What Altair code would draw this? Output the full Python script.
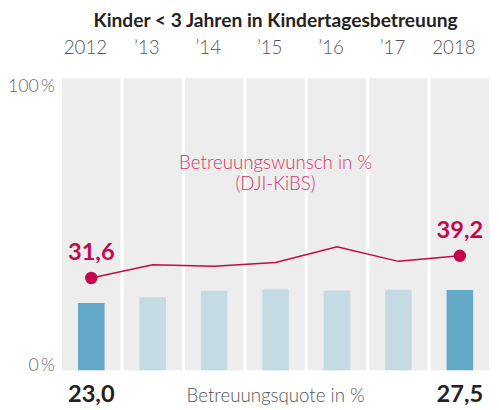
import altair as alt
import pandas as pd

years = ["2012", "\u201913", "\u201914", "\u201915", "\u201916", "\u201917", "2018"]
quote = [23.0, 25.0, 27.2, 27.7, 27.3, 27.6, 27.5]
wunsch = [31.6, 36.1, 35.6, 36.9, 42.3, 37.3, 39.2]
highlight = [True, False, False, False, False, False, True]
full = [100] * 7

df = pd.DataFrame({"year": years, "quote": quote, "wunsch": wunsch,
                   "hl": highlight, "full": full})
df["quote_lbl"] = [f"{v:.1f}".replace(".", ",") for v in quote]
df["wunsch_lbl"] = [f"{v:.1f}".replace(".", ",") for v in wunsch]

ends = df[df["hl"]]

FONT = "Lato"
PINK = "#c4084d"

xs = alt.Scale(domain=years, paddingInner=0.05, paddingOuter=0)
ys = alt.Scale(domain=[0, 100], nice=False)

x_axis = alt.Axis(orient="top", title=None, domain=False, ticks=False,
                  labelAngle=0, labelFontSize=19, labelFont=FONT,
                  labelFontWeight=300, labelColor="#555555", labelPadding=21,
                  labelOffset=-6)
y_axis = alt.Axis(title=None, values=[0, 100], domain=False, ticks=False,
                  grid=False, labelFontSize=18, labelFont=FONT,
                  labelFontWeight=300, labelColor="#666666", labelPadding=8,
                  labelBaseline={"condition": {"test": "datum.value == 0",
                                               "value": "alphabetic"},
                                 "value": "top"},
                  labelExpr="datum.value + '\u2009%'")

base = alt.Chart(df)

bg = base.mark_rect(color="#ededed").encode(
    x=alt.X("year:N", scale=xs, axis=x_axis, sort=years),
    y=alt.Y("full:Q", scale=ys, axis=y_axis),
    y2=alt.datum(0),
)

bars = base.mark_bar(size=27).encode(
    x=alt.X("year:N", scale=xs, sort=years),
    y=alt.Y("quote:Q", scale=ys),
    color=alt.Color("hl:N", scale=alt.Scale(domain=[True, False],
                                            range=["#63a8c6", "#c5dbe3"]),
                    legend=None),
)

line = base.mark_line(color=PINK, strokeWidth=1.5).encode(
    x=alt.X("year:N", scale=xs, sort=years),
    y=alt.Y("wunsch:Q", scale=ys),
)

pts = alt.Chart(ends).mark_circle(color=PINK, size=160, opacity=1).encode(
    x=alt.X("year:N", scale=xs, sort=years),
    y=alt.Y("wunsch:Q", scale=ys),
)

pt_lbl = alt.Chart(ends).mark_text(color=PINK, font=FONT, fontWeight="bold",
                                   fontSize=24, dy=-25).encode(
    x=alt.X("year:N", scale=xs, sort=years),
    y=alt.Y("wunsch:Q", scale=ys),
    text="wunsch_lbl:N",
)

bot_lbl = alt.Chart(ends).mark_text(color="#222222", font=FONT, fontWeight="bold",
                                    fontSize=24, baseline="alphabetic", dy=32).encode(
    x=alt.X("year:N", scale=xs, sort=years),
    y=alt.datum(0),
    text="quote_lbl:N",
)

ann = pd.DataFrame({"year": ["\u201915"], "txt": ["Betreuungsquote in %"]})
bot_txt = alt.Chart(ann).mark_text(color="#555555", font=FONT, fontWeight=300,
                                   fontSize=19, baseline="alphabetic", dy=32).encode(
    x=alt.X("year:N", scale=xs, sort=years),
    y=alt.datum(0),
    text="txt:N",
)

ann2 = pd.DataFrame({"year": ["\u201915"], "y": [69.0],
                     "txt": [["Betreuungswunsch in %", "(DJI-KiBS)"]]})
wunsch_txt = alt.Chart(ann2).mark_text(color="#d6336c", font=FONT, fontWeight=300,
                                       fontSize=19, baseline="alphabetic",
                                       lineHeight=22).encode(
    x=alt.X("year:N", scale=xs, sort=years),
    y=alt.Y("y:Q", scale=ys),
    text="txt",
)

chart = alt.layer(bg, bars, line, pts, pt_lbl, bot_lbl, bot_txt, wunsch_txt).properties(
    width=434, height=297,
    title=alt.TitleParams("Kinder < 3 Jahren in Kindertagesbetreuung",
                          anchor="middle", frame="group", font=FONT, fontSize=19.5,
                          fontWeight="bold", color="#222222", offset=7),
    autosize=alt.AutoSizeParams(type="none"),
    padding={"left": 55, "top": 68, "right": 2, "bottom": 36},
).configure_view(stroke=None)

chart.save("out.html", embed_options={"renderer": "svg", "actions": False})
